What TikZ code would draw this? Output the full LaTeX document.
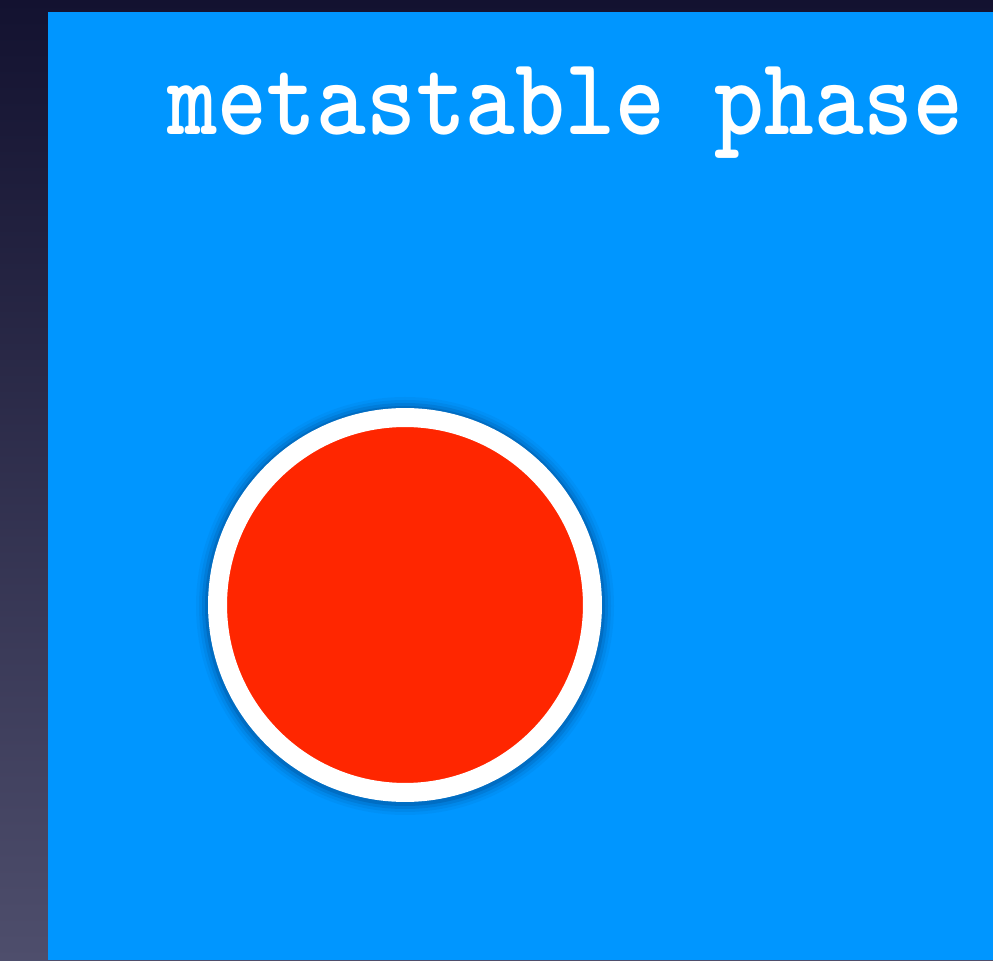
\documentclass[tikz,border=0pt]{standalone}
\usepackage{tikz}
\usetikzlibrary{positioning}

\definecolor{backdrop}{HTML}{131230}
\definecolor{backdroplow}{HTML}{4E4E6C}
\definecolor{phaseblue}{HTML}{0096FF}
\definecolor{dotred}{HTML}{FF2600}
\definecolor{glow}{HTML}{002A60}

\begin{document}
\begin{tikzpicture}[
    x=0.02cm, y=0.02cm,
    title/.style={font=\fontsize{63}{70}\selectfont\ttfamily\bfseries, text=white, inner sep=0pt, anchor=base west},
    dot/.style={circle, fill=dotred, draw=white, line width=0.38cm, minimum size=7.5cm, inner sep=0pt},
]
% === Backdrop ===
\shade[top color=backdrop, bottom color=backdroplow] (0,0) rectangle (993,960);
\useasboundingbox (0,0) rectangle (993,960);
% Blue panel
\fill[phaseblue] (48,0) rectangle (993,948);
% Title
\node[title] (phase) at (167,825) {\scalebox{0.856}[1]{metastable phase}};
% Glow round the dot
\foreach \r/\o in {209/0.05, 206/0.08, 203/0.12, 200/0.18} {
    \fill[glow, opacity=\o] (405,354) circle [radius=\r];
}
% The dot
\node[dot] (ball) at (405,355) {};
\end{tikzpicture}
\end{document}
